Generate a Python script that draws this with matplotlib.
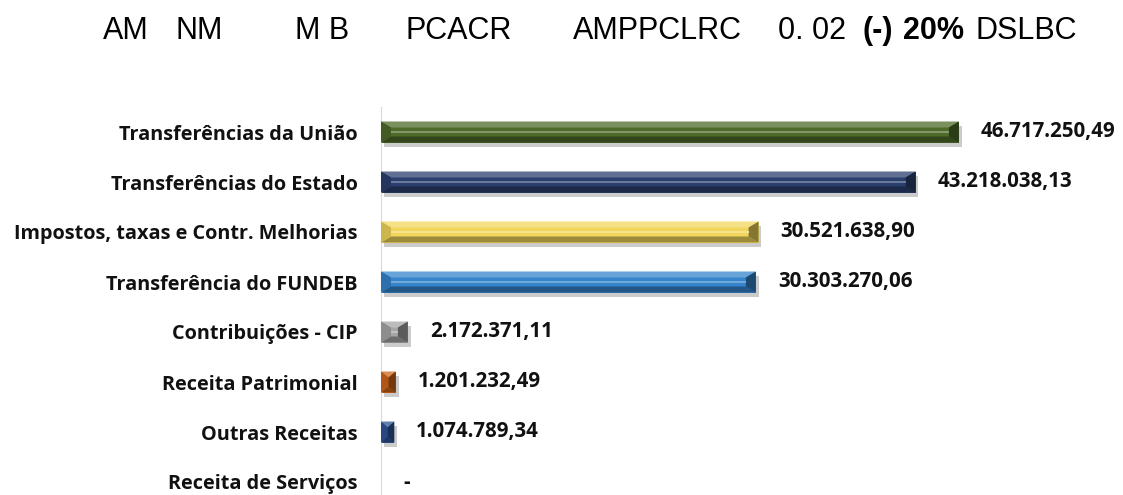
import matplotlib.pyplot as plt
import matplotlib.colors as mcolors
from matplotlib.patches import Polygon
import matplotlib.patheffects as pe

# dados
categorias = ["Transferências da União", "Transferências do Estado",
              "Impostos, taxas e Contr. Melhorias", "Transferência do FUNDEB",
              "Contribuições - CIP", "Receita Patrimonial", "Outras Receitas",
              "Receita de Serviços"]
valores = [46717250.49, 43218038.13, 30521638.90, 30303270.06,
           2172371.11, 1201232.49, 1074789.34, 0.0]
rotulos = ["46.717.250,49", "43.218.038,13", "30.521.638,90", "30.303.270,06",
           "2.172.371,11", "1.201.232,49", "1.074.789,34", "-"]
cores = ["#4f6b2a", "#2b3f6e", "#f2d65c", "#3584cc",
         "#a6a6a6", "#d0651a", "#2f5597", "#808080"]

W, H = 1123, 495
fig = plt.figure(figsize=(W / 100, H / 100), dpi=100)
ax = fig.add_axes([381 / W, 0, 1 - 381 / W - 0.02, 1 - 107 / H])

xmax = (W - 0.02 * W - 381) / 12.37e-6
ax.set_xlim(0, xmax)
ax.set_ylim(7.26, -0.5)

h = 0.42
px_x = xmax / (W * (1 - 381 / W - 0.02))   # unidades por pixel (x)
px_y = 7.76 / (H * (1 - 107 / H))           # unidades por pixel (y)


def mix(c, alvo, t):
    c = mcolors.to_rgb(c)
    alvo = mcolors.to_rgb(alvo)
    return tuple(a + (b - a) * t for a, b in zip(c, alvo))


for i, (v, c) in enumerate(zip(valores, cores)):
    if v <= 0:
        continue
    y0, y1 = i - h / 2, i + h / 2
    base = ax.barh(i, v, height=h, color=c, zorder=2)
    base.patches[0].set_path_effects([pe.SimplePatchShadow(offset=(2, -3), alpha=0.3, shadow_rgbFace="#555555"), pe.Normal()])
    bx = min(10 * px_x, v / 2)
    by = 6 * px_y
    facetas = [
        ([(0, y0), (v, y0), (v - bx, y0 + by), (bx, y0 + by)], mix(c, "white", 0.25)),
        ([(0, y1), (v, y1), (v - bx, y1 - by), (bx, y1 - by)], mix(c, "black", 0.35)),
        ([(0, y0), (bx, y0 + by), (bx, y1 - by), (0, y1)], mix(c, "black", 0.15)),
        ([(v, y0), (v - bx, y0 + by), (v - bx, y1 - by), (v, y1)], mix(c, "black", 0.45)),
    ]
    for pts, fc in facetas:
        ax.add_patch(Polygon(pts, closed=True, facecolor=fc, edgecolor="none", zorder=3))
    if v - 2 * bx > 0:
        ax.barh(i, v - 2 * bx, left=bx, height=2 * px_y, color=mix(c, "white", 0.3), zorder=4)

for i, (v, t) in enumerate(zip(valores, rotulos)):
    ax.annotate(t, (v, i), xytext=(22, 0), textcoords="offset pixels",
                ha="left", va="center", fontsize=14.8, fontweight="bold",
                family="Open Sans", color="#111111")

ax.set_yticks(range(len(categorias)))
ax.set_yticklabels(categorias, fontsize=14.3, fontweight="bold", family="Open Sans", color="#111111")
ax.tick_params(axis="y", length=0, pad=23 * 0.72)
ax.set_xticks([])
for s in ["top", "right", "bottom"]:
    ax.spines[s].set_visible(False)
ax.spines["left"].set_color("#d9d9d9")

# título
pedacos = [("AM", 103, "normal"), ("NM", 175, "normal"), ("M B", 295, "normal"),
           ("PCACR", 405, "normal"), ("AMPPCLRC", 573, "normal"), ("0. 02", 778, "normal"),
           ("(-)", 863, "bold"), ("20%", 903, "bold"), ("DSLBC", 975, "normal")]
for txt, x, w in pedacos:
    fig.text(x / W, 1 - 39 / H, txt, fontsize=22, fontweight=w,
             family=["Liberation Sans", "DejaVu Sans"],
             ha="left", va="baseline", color="black")

fig.savefig("out.png", dpi=100)
